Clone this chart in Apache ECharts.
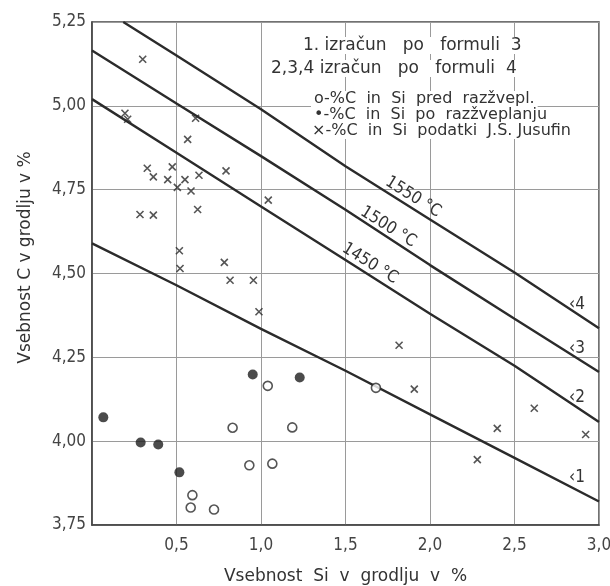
<!DOCTYPE html>
<html>
<head>
<meta charset="utf-8">
<script src="https://cdn.jsdelivr.net/npm/echarts@6/dist/echarts.min.js"></script>
<style>
  html, body { margin: 0; padding: 0; background: #fff; }
  #chart { width: 610px; height: 586px; }
</style>
</head>
<body>
<div id="chart"></div>
<script>
// vsebnost Si (x) za krivulje
const lineSi = [0, 0.5, 1.0, 1.5, 2.0, 2.5, 3.0];
const line1C = [4.59, 4.465, 4.335, 4.21, 4.08, 3.95, 3.82];
const line2C = [5.02, 4.86, 4.70, 4.54, 4.38, 4.225, 4.057];
const line3C = [5.165, 5.007, 4.85, 4.69, 4.525, 4.365, 4.206];
const line4Si = [0.185, 0.5, 1.0, 1.5, 2.0, 2.5, 3.0];
const line4C = [5.25, 5.15, 4.99, 4.82, 4.661, 4.503, 4.337];

// o - pred razzveplanjem
const predSi = [1.04, 0.832, 0.931, 1.067, 0.594, 0.584, 0.722, 1.185, 1.68];
const predC = [4.165, 4.04, 3.928, 3.933, 3.839, 3.802, 3.796, 4.041, 4.159];
// • - po razzveplanju
const poSi = [0.067, 0.288, 0.392, 0.517, 0.951, 1.229];
const poC = [4.071, 3.996, 3.99, 3.907, 4.199, 4.19];
// x - podatki J.S. Jusufin
const jusSi = [0.30, 0.195, 0.211, 0.613, 0.566, 0.327, 0.475, 0.363, 0.448, 0.55, 0.633, 0.793,
  0.505, 0.586, 1.043, 0.284, 0.363, 0.625, 0.517, 0.521, 0.783, 0.817, 0.955, 0.988,
  1.817, 1.907, 2.617, 2.398, 2.921, 2.28];
const jusC = [5.139, 4.978, 4.96, 4.963, 4.90, 4.814, 4.818, 4.788, 4.78, 4.78, 4.793, 4.806,
  4.757, 4.746, 4.719, 4.676, 4.674, 4.691, 4.568, 4.515, 4.533, 4.48, 4.48, 4.386,
  4.286, 4.155, 4.098, 4.038, 4.02, 3.945];

const lineNames = ['1', '2', '3', '4'];
const tempNames = ['1450 °C', '1500 °C', '1550 °C'];
const tempPos = [[1.645, 4.53], [1.753, 4.639], [1.90, 4.728]];

const pairs = (xs, ys) => xs.map((x, i) => [x, ys[i]]);
const comma = (v, d) => v.toFixed(d).replace('.', ',');
const FONT = '"DejaVu Sans", sans-serif';
const NARROW = '"DejaVu Sans Condensed", "DejaVu Sans", sans-serif';
const INK = '#2b2b2b';

const chart = echarts.init(document.getElementById('chart'));

// krivulja + oznaka stevilke na desni + temperatura
function curve(xs, ys, idx, temp) {
  const last = xs.length - 1;
  const mp = [{
    coord: [xs[last], ys[last]],
    label: { formatter: '‹' + lineNames[idx], offset: [-22, -24] }
  }];
  if (temp !== null) {
    mp.push({ coord: tempPos[temp], label: { formatter: tempNames[temp], rotate: -32 } });
  }
  return {
    type: 'line',
    data: pairs(xs, ys),
    symbol: 'none',
    lineStyle: { color: INK, width: 2.4 },
    z: 3,
    markPoint: {
      symbol: 'circle',
      symbolSize: 0,
      label: { show: true, position: 'inside', color: '#333', fontFamily: NARROW, fontSize: 17 },
      data: mp
    }
  };
}

const txt = (left, top, text, size) => ({
  type: 'text', left: left, top: top, z: 10,
  style: { text: text, font: size + 'px ' + FONT, fill: '#333', backgroundColor: '#fff', padding: [0, 3] }
});

chart.setOption({
  animation: false,
  backgroundColor: '#fff',
  grid: {
    left: 92, right: 11, top: 22, bottom: 61,
    containLabel: false,
    outerBoundsMode: 'none',
    show: true, borderColor: '#444', borderWidth: 1.5
  },
  xAxis: {
    type: 'value',
    min: 0, max: 3, interval: 0.5,
    name: 'Vsebnost  Si  v  grodlju  v  %',
    nameLocation: 'middle',
    nameGap: 43,
    nameTextStyle: { fontFamily: FONT, fontSize: 17, color: '#333' },
    axisLine: { lineStyle: { color: '#444', width: 1.5 } },
    axisTick: { show: false },
    axisLabel: {
      fontFamily: NARROW, fontSize: 17, color: '#444', margin: 12,
      formatter: v => (v === 0 ? '' : comma(v, 1))
    },
    splitLine: { lineStyle: { color: '#9a9a9a', width: 1 } }
  },
  yAxis: {
    type: 'value',
    min: 3.75, max: 5.25, interval: 0.25,
    name: 'Vsebnost C v grodlju v %',
    nameLocation: 'middle',
    nameGap: 58,
    nameTextStyle: { fontFamily: FONT, fontSize: 17, color: '#333', padding: [0, 0, 0, 32] },
    axisLine: { lineStyle: { color: '#444', width: 1.5 } },
    axisTick: { show: false },
    axisLabel: {
      fontFamily: NARROW, fontSize: 17, color: '#444', margin: 6,
      formatter: v => comma(v, 2)
    },
    splitLine: { lineStyle: { color: '#9a9a9a', width: 1 } }
  },
  graphic: [
    txt(300, 37, '1. izračun   po   formuli  3', 17),
    txt(268, 60, '2,3,4 izračun   po   formuli  4', 17),
    txt(311, 91, 'o-%C  in  Si  pred  razžvepl.', 16),
    txt(311, 107, '•-%C  in  Si  po  razžveplanju', 16),
    txt(309, 123, '×-%C  in  Si  podatki  J.S. Jusufin', 16)
  ],
  series: [
    curve(lineSi, line1C, 0, null),
    curve(lineSi, line2C, 1, 0),
    curve(lineSi, line3C, 2, 1),
    curve(line4Si, line4C, 3, 2),
    {
      type: 'scatter',
      data: pairs(predSi, predC),
      symbol: 'circle',
      symbolSize: 9,
      itemStyle: { color: '#fff', borderColor: INK, borderWidth: 1.6 },
      z: 5
    },
    {
      type: 'scatter',
      data: pairs(poSi, poC),
      symbol: 'circle',
      symbolSize: 10,
      itemStyle: { color: '#1e1e1e' },
      z: 5
    },
    {
      type: 'scatter',
      data: pairs(jusSi, jusC),
      symbol: 'path://M0,0L10,10M10,0L0,10',
      symbolSize: 7,
      itemStyle: { color: 'none', borderColor: INK, borderWidth: 1.6 },
      z: 5
    }
  ]
});
</script>
</body>
</html>
